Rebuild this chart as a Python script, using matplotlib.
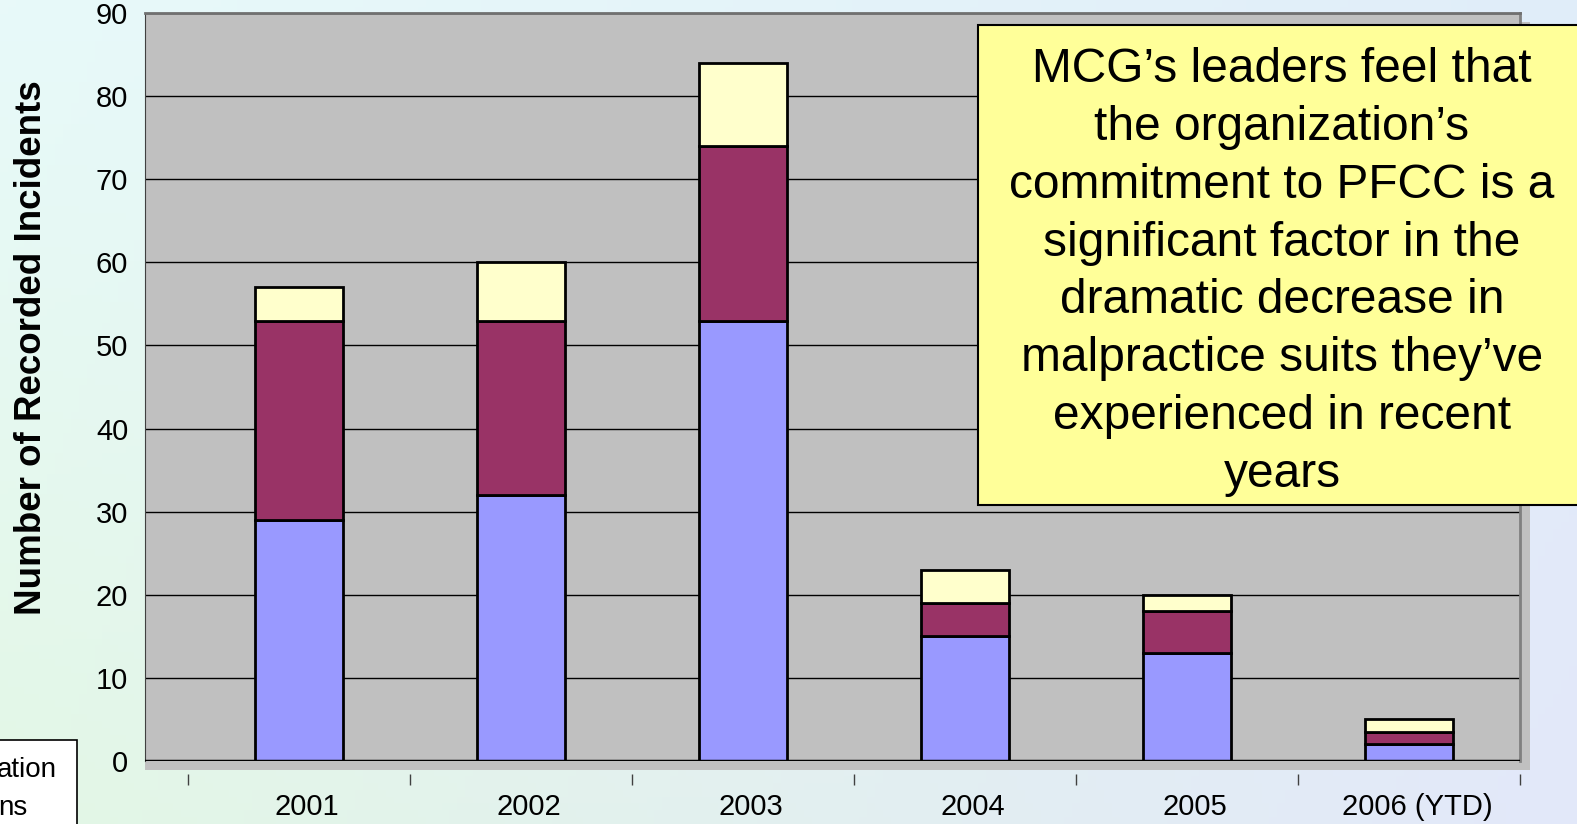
import numpy as np
import matplotlib
matplotlib.use("Agg")
import matplotlib.pyplot as plt
from matplotlib.patches import Rectangle

plt.rcParams['font.family'] = ['Liberation Sans', 'DejaVu Sans']

# data
years = ['2001', '2002', '2003', '2004', '2005', '2006 (YTD)']
series_blue = [29, 32, 53, 15, 13, 2]
series_red = [24, 21, 21, 4, 5, 1.5]
series_cream = [4, 7, 10, 4, 2, 1.5]
yticks = [0, 10, 20, 30, 40, 50, 60, 70, 80, 90]
note = ("MCG\u2019s leaders feel that\nthe organization\u2019s\ncommitment to PFCC is a\n"
        "significant factor in the\ndramatic decrease in\nmalpractice suits they\u2019ve\n"
        "experienced in recent\nyears")
legend_bits = ['ation', 'ns']

W, H = 1577, 824
fig = plt.figure(figsize=(W / 100, H / 100), dpi=100)

# soft pastel background
bg = fig.add_axes([0, 0, 1, 1], zorder=-10)
bg.axis('off')
tl = np.array([0.91, 0.98, 0.98])
tr = np.array([0.88, 0.93, 0.98])
bl = np.array([0.89, 0.97, 0.90])
br = np.array([0.89, 0.91, 0.98])
u = np.linspace(0, 1, 200)[None, :, None]
v = np.linspace(0, 1, 120)[:, None, None]
grad = (1 - v) * ((1 - u) * tl + u * tr) + v * ((1 - u) * bl + u * br)
bg.imshow(grad, aspect='auto', extent=[0, 1, 0, 1])
bg.set_xlim(0, 1)
bg.set_ylim(0, 1)

ax = fig.add_axes([145 / W, 1 - 761 / H, (1520 - 145) / W, (761 - 13) / H])
ax.set_facecolor('#C0C0C0')

x = np.arange(len(years))
bw = 0.40
ec = dict(edgecolor='black', linewidth=2.0)
ax.bar(x, series_blue, bw, color='#9999FF', zorder=3, **ec)
bottom2 = np.array(series_blue)
ax.bar(x, series_red, bw, bottom=bottom2, color='#993366', zorder=3, **ec)
bottom3 = bottom2 + np.array(series_red)
ax.bar(x, series_cream, bw, bottom=bottom3, color='#FFFFCC', zorder=3, **ec)

ax.set_xlim(-0.694, 5.5)
ax.set_ylim(0, 90)
ax.set_yticks(yticks)
ax.yaxis.grid(True, color='black', linewidth=1.0)
ax.set_axisbelow(True)
ax.tick_params(axis='y', length=0, pad=12, labelsize=21)

# labels sit a little right of the bars (3D look of the original)
ax.set_xticks(x + 0.036)
ax.set_xticklabels(years)
ax.set_xticks(np.arange(-0.5, 6, 1), minor=True)
ax.tick_params(axis='x', which='major', length=0, pad=14, labelsize=21)
ax.tick_params(axis='x', which='minor', length=8, width=1, color='#404040', direction='out')

ax.spines['bottom'].set_position(('outward', 9))
ax.spines['bottom'].set_visible(False)
ax.spines['right'].set_color('#808080')
ax.spines['right'].set_linewidth(2)
ax.spines['top'].set_color('#707070')
ax.spines['top'].set_linewidth(2)
ax.spines['left'].set_color('#404040')
ax.axhline(0, color='black', linewidth=2.5, zorder=4)

# 3D-style floor and side strip
ax.add_patch(Rectangle((0, -0.012), 1.007, 0.012, transform=ax.transAxes,
                       facecolor='#C0C0C0', edgecolor='none', clip_on=False, zorder=1))
ax.add_patch(Rectangle((1.0, -0.012), 0.007, 1.0, transform=ax.transAxes,
                       facecolor='#C0C0C0', edgecolor='none', clip_on=False, zorder=1))

ax.set_ylabel('Number of Recorded Incidents', fontsize=26.5, fontweight='bold')
ax.yaxis.set_label_coords(-0.0695, 0.552)

# callout box
fig.patches.append(Rectangle((978 / W, 1 - 505 / H), 620 / W, 480 / H,
                             transform=fig.transFigure, facecolor='#FFFF99',
                             edgecolor='black', linewidth=1.5, zorder=5))
fig.text(1282 / W, 1 - 272 / H, note, ha='center', va='center', fontsize=34.5,
         linespacing=1.37, zorder=6)

# cropped legend fragment
fig.patches.append(Rectangle((-10 / W, -10 / H), 87 / W, (84 + 10) / H,
                             transform=fig.transFigure, facecolor='white',
                             edgecolor='black', linewidth=1.2, zorder=5))
fig.text(57 / W, 1 - 770 / H, legend_bits[0], ha='right', va='center', fontsize=20, zorder=6)
fig.text(27 / W, 1 - 808 / H, legend_bits[1], ha='right', va='center', fontsize=20, zorder=6)

fig.savefig('out.png', dpi=100)
